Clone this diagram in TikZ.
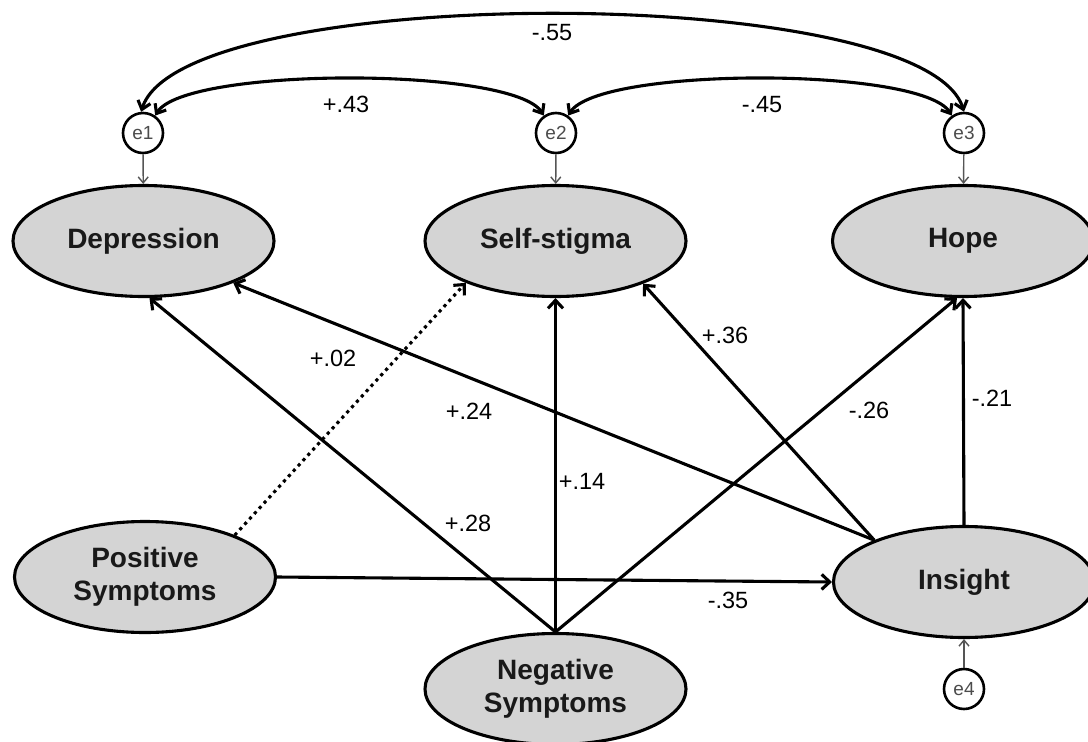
\documentclass[tikz,border=0pt]{standalone}
\usepackage{fontspec}
\setmainfont{Liberation Sans}
\usetikzlibrary{shapes.geometric,arrows.meta}
\definecolor{ellfill}{RGB}{212,212,212}
\definecolor{errgray}{RGB}{85,85,85}
\newcommand\latfont{\bfseries\fontsize{28}{33}\selectfont}
\newcommand\coeffont{\fontsize{23.5}{27}\selectfont}
\newcommand\resfont{\fontsize{19}{22}\selectfont}
\tikzset{
  latent/.style={ellipse, draw=black, line width=3.1pt, fill=ellfill, minimum width=261pt, minimum height=111pt, inner sep=0pt, font=\latfont, align=center, text=black!90},
  resid/.style={circle, draw=black, line width=2.6pt, fill=white, minimum size=40pt, inner sep=0pt, font=\resfont, text=black!70},
  coef/.style={font=\coeffont, inner sep=1pt},
  effect/.style={line width=3.1pt, -{Straight Barb[length=8pt,width=15pt]}},
  weak/.style={effect, dash pattern=on 3.2pt off 4pt},
  resarrow/.style={line width=1.4pt, draw=errgray, -{Straight Barb[length=6pt,width=10pt]}},
  covar/.style={line width=3.1pt, {Straight Barb[length=8pt,width=13pt]}-{Straight Barb[length=8pt,width=13pt]}},
}
\begin{document}
\begin{tikzpicture}[x=1pt,y=-1pt]
\useasboundingbox (0,0) rectangle (1088,742);
\fill[white] (0,0) rectangle (1088,742);

% latent variables
\node[latent] (dep)  at (143.5,241) {Depression};
\node[latent] (ss)   at (555.5,241) {Self-stigma};
\node[latent] (hope) at (963,241)   {Hope};
\node[latent] (pos)  at (145,577)   {Positive\\Symptoms};
\node[latent] (ins)  at (964,582)   {Insight};
\node[latent] (neg)  at (555.5,689) {Negative\\Symptoms};

% residuals
\node[resid] (e1) at (143,133) {e1};
\node[resid] (e2) at (556,133) {e2};
\node[resid] (e3) at (964,133) {e3};
\node[resid] (e4) at (964,689) {e4};

% residual arrows
\draw[resarrow] (e1) -- (dep);
\draw[resarrow] (e2) -- (ss);
\draw[resarrow] (e3) -- (hope);
\draw[resarrow] (e4) -- (ins);

% covariances
\draw[covar] (e1.95) .. controls +(40,-130) and +(-40,-130) .. (e3.90);
\draw[covar] (e1.55) .. controls +(30,-49) and +(-30,-49) .. (e2.125);
\draw[covar] (e2.55) .. controls +(30,-49) and +(-30,-49) .. (e3.125);

% structural paths
\draw[effect] (neg.north) -- (dep.-84);
\draw[effect] (neg.north) -- (ss.south);
\draw[effect] (neg.north) -- (hope.-96);
\draw[effect] (ins.155) -- (dep.-25);
\draw[effect] (ins.155) -- (ss.-26);
\draw[effect] (ins.north) -- (hope.south);
\draw[effect] (pos.east) -- (ins.west);
\draw[weak] (pos.25) -- (ss.205);

% coefficients
\node[coef] (c55) at (552,33)  {-.55};
\node[coef] (c43) at (346,104) {+.43};
\node[coef] (c45) at (762,105) {-.45};
\node[coef] (c02) at (333,358) {+.02};
\node[coef] (c24) at (469,411) {+.24};
\node[coef] (c28) at (468,523) {+.28};
\node[coef] (c14) at (582,481) {+.14};
\node[coef] (c36) at (725,335) {+.36};
\node[coef] (c26) at (869,410) {-.26};
\node[coef] (c21) at (992,398) {-.21};
\node[coef] (c35) at (728,600) {-.35};
\end{tikzpicture}
\end{document}
